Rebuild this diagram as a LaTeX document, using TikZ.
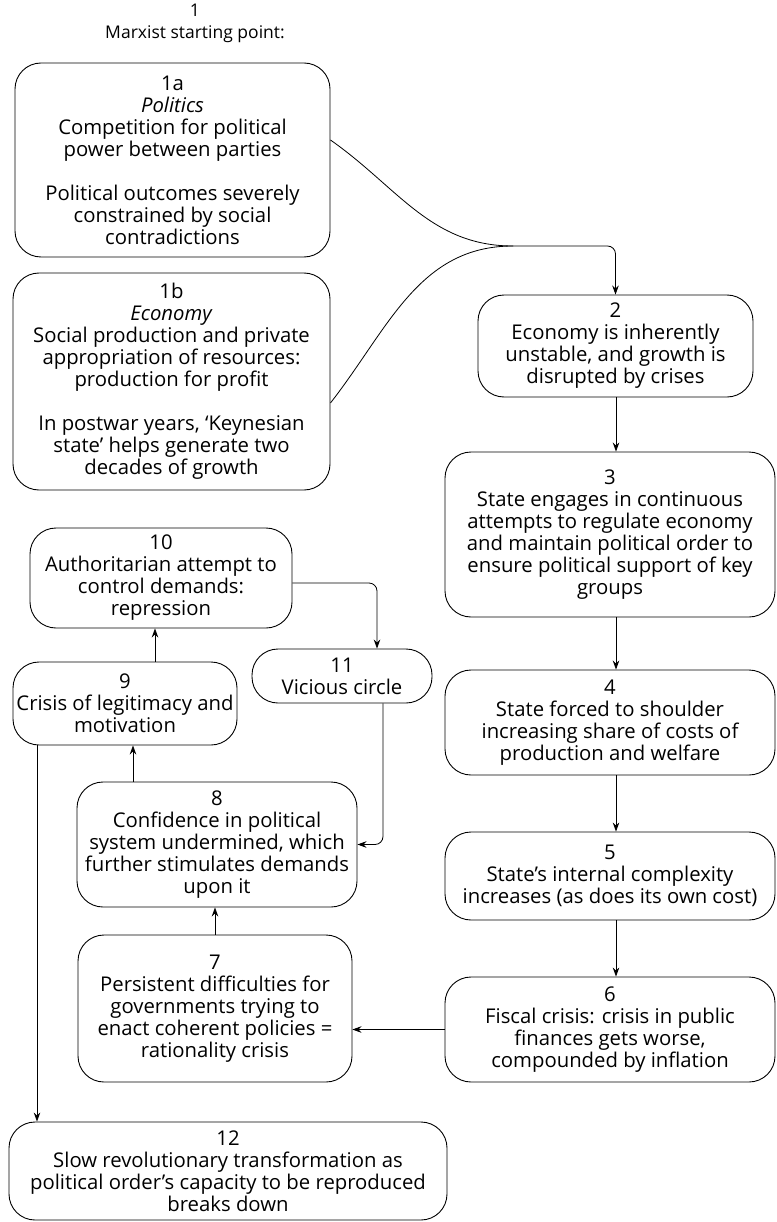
\documentclass[tikz,border=0pt]{standalone}
\usepackage{fontspec}
\setmainfont{Open Sans}
\usetikzlibrary{arrows.meta,calc}
\begin{document}
\begin{tikzpicture}[x=1pt,y=-1pt,
  box/.style={draw,line width=0.9pt,rounded corners=26pt,align=center,
    inner sep=0pt,font=\fontsize{20.3}{22}\selectfont},
  arr/.style={line width=0.8pt,-{Stealth[length=9pt,width=6.5pt]}},
  lbl/.style={align=center,font=\fontsize{17.5}{22}\selectfont}]
\useasboundingbox (0,0) rectangle (776,1222);

% heading
\node[lbl] (head) at (195,23) {1\\Marxist starting point:};

% starting boxes
\node[box,minimum width=315pt,minimum height=194pt] (n1a) at (172.5,160)
  {1a\\\textit{Politics}\\Competition for political\\power between parties\\[22pt]
   Political outcomes severely\\constrained by social\\contradictions};
\node[box,minimum width=317pt,minimum height=217pt] (n1b) at (171.5,381.5)
  {1b\\\textit{Economy}\\Social production and private\\appropriation of resources:\\production for profit\\[22pt]
   In postwar years, `Keynesian\\state' helps generate two\\decades of growth};

% right column
\node[box,minimum width=275pt,minimum height=102pt] (n2) at (615.5,346)
  {2\\Economy is inherently\\unstable, and growth is\\disrupted by crises};
\node[box,minimum width=330pt,minimum height=165pt] (n3) at (610,534.5)
  {3\\State engages in continuous\\attempts to regulate economy\\and maintain political order to\\ensure political support of key\\groups};
\node[box,minimum width=330pt,minimum height=105pt] (n4) at (610,722.5)
  {4\\State forced to shoulder\\increasing share of costs of\\production and welfare};
\node[box,minimum width=330pt,minimum height=88pt] (n5) at (610,876)
  {5\\State's internal complexity\\increases (as does its own cost)};
\node[box,minimum width=330pt,minimum height=105pt] (n6) at (610,1029.5)
  {6\\Fiscal crisis: crisis in public\\finances gets worse,\\compounded by inflation};

% left column
\node[box,minimum width=274pt,minimum height=147pt] (n7) at (215,1008.5)
  {7\\Persistent difficulties for\\governments trying to\\enact coherent policies =\\rationality crisis};
\node[box,minimum width=280pt,minimum height=125pt] (n8) at (217,844.5)
  {8\\Confidence in political\\system undermined, which\\further stimulates demands\\upon it};
\node[box,minimum width=224pt,minimum height=83pt] (n9) at (125,703.5)
  {9\\Crisis of legitimacy and\\motivation};
\node[box,minimum width=262pt,minimum height=100pt] (n10) at (161,578)
  {10\\Authoritarian attempt to\\control demands:\\repression};
\node[box,minimum width=180pt,minimum height=54pt] (n11) at (342,676)
  {11\\Vicious circle};
\node[box,minimum width=438pt,minimum height=98pt] (n12) at (228,1171)
  {12\\Slow revolutionary transformation as\\political order's capacity to be reproduced\\breaks down};

% merging curves from 1a and 1b into 2
\coordinate (join) at (513,246);
\coordinate (a1) at ([yshift=20pt]n1a.east);
\coordinate (b1) at ([yshift=-21.5pt]n1b.east);
\draw[line width=0.8pt] (a1) to[out=-35,in=180] (join);
\draw[line width=0.8pt] (b1) to[out=52,in=180] (join);
\draw[arr,rounded corners=8pt] (join) -- (join -| n2.north) -- (n2.north);

% main chain down the right column
\coordinate (c2) at (616,0);
\draw[arr] (n2.south -| c2) -- (n3.north -| c2);
\draw[arr] (n3.south -| c2) -- (n4.north -| c2);
\draw[arr] (n4.south -| c2) -- (n5.north -| c2);
\draw[arr] (n5.south -| c2) -- (n6.north -| c2);
\draw[arr] (n6.west) -- (n6.west -| n7.east);

% up the left column
\draw[arr] (n7.north) -- (n7.north |- n8.south);
\coordinate (c8) at (133,0);
\draw[arr] (n8.north -| c8) -- (n9.south -| c8);
\coordinate (c9) at (155,0);
\draw[arr] (n9.north -| c9) -- (n10.south -| c9);

% vicious circle loop
\coordinate (c11) at (377,0);
\coordinate (c11b) at (383,0);
\draw[arr,rounded corners=8pt] ([yshift=-5pt]n10.east) -| (n11.north -| c11);
\draw[arr,rounded corners=8pt] (n11.south -| c11b) |- (n8.east);

% breakdown
\coordinate (c12) at (37,0);
\draw[arr] (n9.south -| c12) -- (n12.north -| c12);
\end{tikzpicture}
\end{document}
